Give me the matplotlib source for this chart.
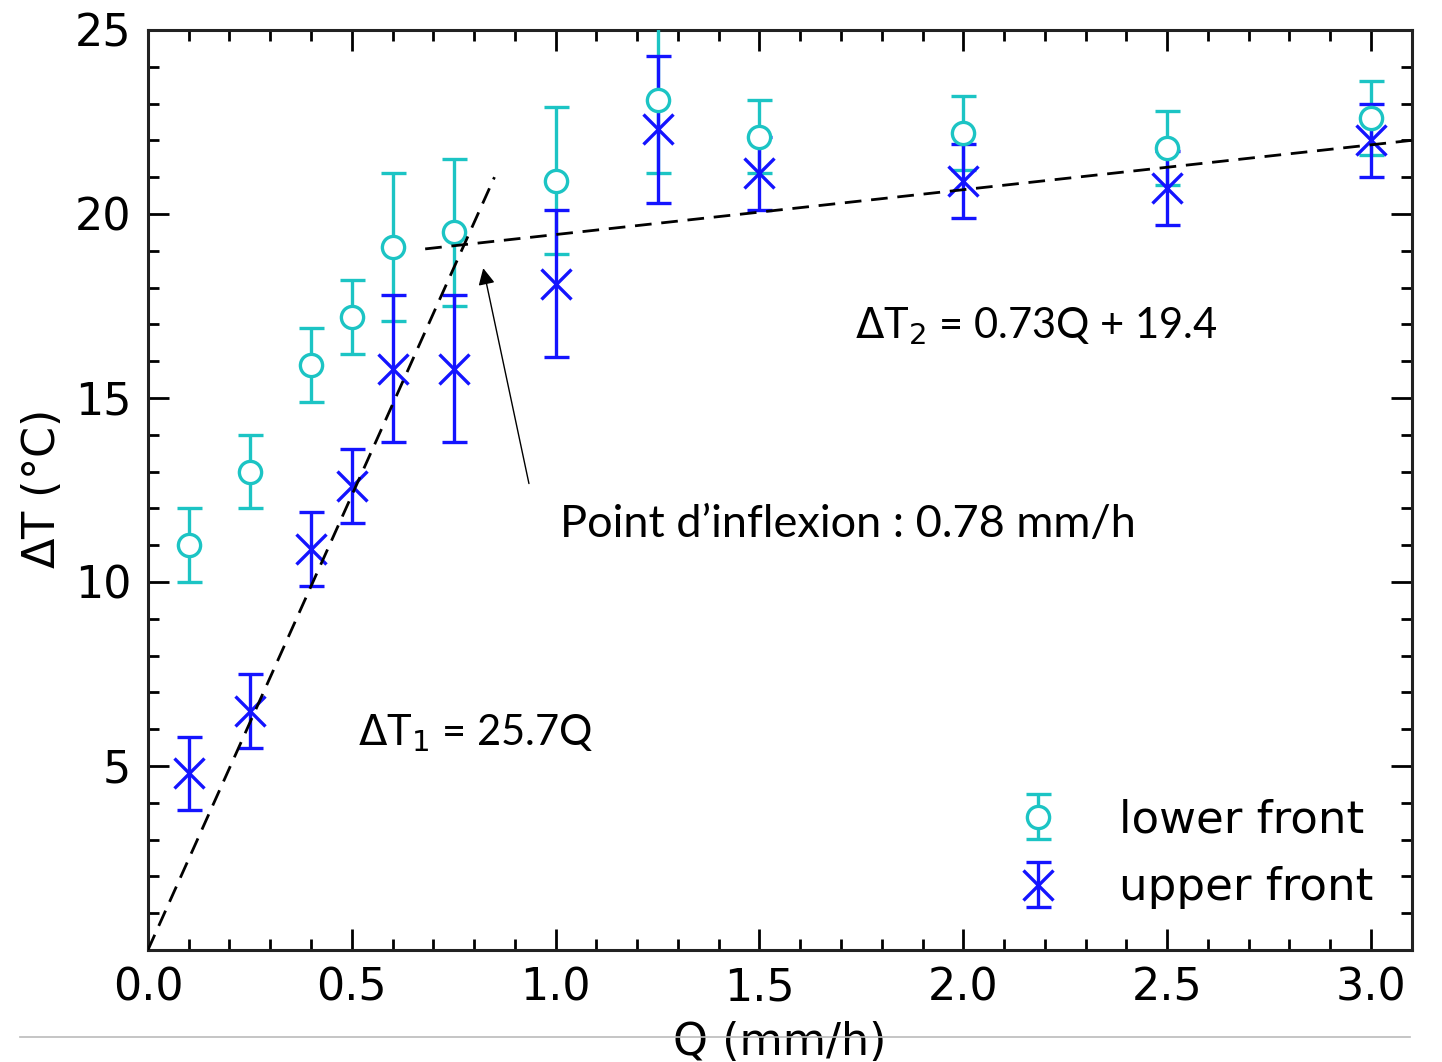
import matplotlib
matplotlib.use('Agg')
import matplotlib.pyplot as plt
from matplotlib.ticker import MultipleLocator
from matplotlib.lines import Line2D

# data
q = [0.1, 0.25, 0.4, 0.5, 0.6, 0.75, 1.0, 1.25, 1.5, 2.0, 2.5, 3.0]
lower_t = [11.0, 13.0, 15.9, 17.2, 19.1, 19.5, 20.9, 23.1, 22.1, 22.2, 21.8, 22.6]
lower_err = [1.0, 1.0, 1.0, 1.0, 2.0, 2.0, 2.0, 2.0, 1.0, 1.0, 1.0, 1.0]
upper_t = [4.8, 6.5, 10.9, 12.6, 15.8, 15.8, 18.1, 22.3, 21.1, 20.9, 20.7, 22.0]
upper_err = [1.0, 1.0, 1.0, 1.0, 2.0, 2.0, 2.0, 2.0, 1.0, 1.0, 1.0, 1.0]

# fitted lines as drawn
fit1_q = [0.0, 0.85]
fit1_t = [0.0, 21.0]
fit2_q = [0.68, 3.1]
fit2_t = [19.05, 22.0]

fig = plt.figure(figsize=(14.42, 10.62), dpi=100)
ax = fig.add_axes([0.1026, 0.1055, 0.8764, 0.8663])

cyan = '#1cc4c4'
blue = '#1414ff'

ax.errorbar(q, lower_t, yerr=lower_err, fmt='o', color=cyan, mfc='white', mec=cyan,
            ms=16, mew=2.4, elinewidth=2.4, capsize=9, capthick=2.4, label='lower front', zorder=3)
ax.errorbar(q, upper_t, yerr=upper_err, fmt='x', color=blue, ms=21, mew=2.4,
            elinewidth=2.4, capsize=9, capthick=2.4, label='upper front', zorder=3)

ax.plot(fit1_q, fit1_t, '--', color='black', lw=2, dashes=(6, 3.5), zorder=4)
ax.plot(fit2_q, fit2_t, '--', color='black', lw=2, dashes=(6, 3.5), zorder=4)

ax.annotate('', xy=(0.821, 18.6), xytext=(0.936, 12.6),
            arrowprops=dict(arrowstyle='-|>', color='black', lw=1.0, mutation_scale=25))

tfont = 'Lato'
ax.text(1.01, 11.55, 'Point d\u2019inflexion : 0.78 mm/h', fontsize=32.5, family=tfont, va='center')
ax.text(0.515, 5.9, r'$\Delta$T$_1$ = 25.7Q', fontsize=30, family=tfont, va='center')
ax.text(1.735, 16.95, r'$\Delta$T$_2$ = 0.73Q + 19.4', fontsize=30, family=tfont, va='center')

ax.set_xlim(0, 3.1)
ax.set_ylim(0, 25)
ax.xaxis.set_major_locator(MultipleLocator(0.5))
ax.xaxis.set_minor_locator(MultipleLocator(0.1))
ax.set_yticks([5, 10, 15, 20, 25])
ax.yaxis.set_minor_locator(MultipleLocator(1))
ax.xaxis.set_major_formatter(plt.FormatStrFormatter('%.1f'))

ax.tick_params(which='both', direction='in', top=True, right=True, labelsize=32, pad=12)
ax.tick_params(which='major', length=15, width=2)
ax.tick_params(which='minor', length=8, width=2)
for s in ax.spines.values():
    s.set_linewidth(2.2)
    s.set_color('#222222')

ax.set_xlabel('Q (mm/h)', fontsize=32, labelpad=8)
ax.set_ylabel(r'$\Delta$T (°C)', fontsize=32, labelpad=8)

leg = ax.legend(loc='lower right', bbox_to_anchor=(1.002, 0.0), frameon=False, fontsize=32.5,
                handletextpad=1.2, labelspacing=0.55, handlelength=1.2)

fig.add_artist(Line2D([20 / 1442, 1410 / 1442], [1 - 1037 / 1062] * 2, color='#bbbbbb', lw=1.2))

fig.savefig('out.png', dpi=100)
